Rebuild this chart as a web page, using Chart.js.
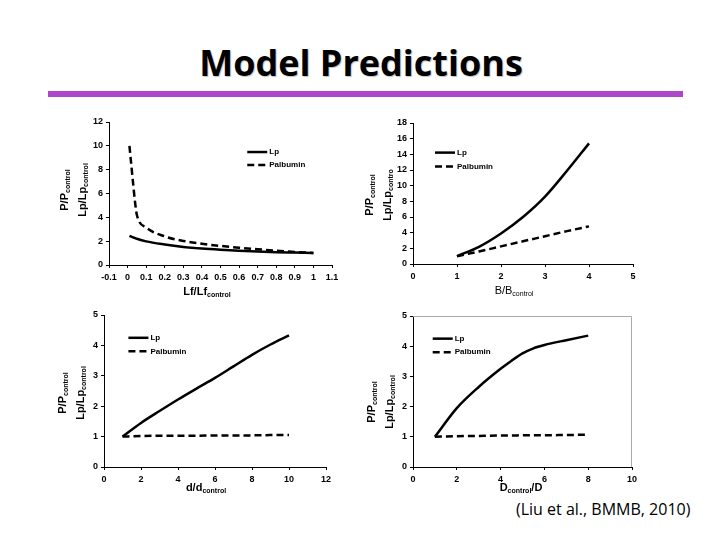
<!DOCTYPE html>
<html>
<head>
<meta charset="utf-8">
<script src="https://cdn.jsdelivr.net/npm/chart.js@4.4.1/dist/chart.umd.min.js"></script>
<style>
    body { margin: 0; background: #fff; }
    #page { position: relative; width: 720px; height: 540px; overflow: hidden; background: #fff; }
    #title { position: absolute; left: 0; width: 722px; top: 38px; text-align: center;
        font: bold 36px "Open Sans", sans-serif; color: #000; text-shadow: 1px 1px 1px rgba(0,0,0,0.25); }
    #bar { position: absolute; left: 48px; top: 91px; width: 635px; height: 6px; background: #ac47c9; }
    #source { position: absolute; left: 516px; top: 498px; font: 16px "Open Sans", sans-serif; color: #000; }
    canvas { position: absolute; }
    .xt { position: absolute; font: bold 11px "Liberation Sans", Arial, sans-serif; color: #000;
        transform: translate(-50%, -50%); white-space: nowrap; }
    .yt { position: absolute; font: bold 11px "Liberation Sans", Arial, sans-serif; color: #000;
        transform: translate(-50%, -50%) rotate(-90deg); white-space: nowrap; text-align: center; line-height: 15px; }
    sub { font-size: 7px; vertical-align: -2px; }
</style>
</head>
<body>
<div id="page">
    <div id="title">Model Predictions</div>
    <div id="bar"></div>

    <canvas id="c1" width="265" height="171" style="left:79px; top:114px; width:265px; height:171px"></canvas>
    <canvas id="c2" width="262" height="169" style="left:383px; top:115px; width:262px; height:169px"></canvas>
    <canvas id="c3" width="264" height="180" style="left:74px; top:307px; width:264px; height:180px"></canvas>
    <canvas id="c4" width="261" height="179" style="left:383px; top:308px; width:261px; height:179px"></canvas>

    <div class="xt" style="left:207px; top:291px">Lf/Lf<sub>control</sub></div>
    <div class="xt" style="left:514px; top:290px; font-weight:normal">B/B<sub>control</sub></div>
    <div class="xt" style="left:206px; top:487px">d/d<sub>control</sub></div>
    <div class="xt" style="left:521px; top:487px">D<sub>control</sub>/D</div>

    <div class="yt" style="left:75px; top:190px">P/P<sub>control</sub><br>Lp/Lp<sub>control</sub></div>
    <div class="yt" style="left:380px; top:195px">P/P<sub>control</sub><br>Lp/Lp<sub>contro</sub></div>
    <div class="yt" style="left:73px; top:393px">P/P<sub>control</sub><br>Lp/Lp<sub>control</sub></div>
    <div class="yt" style="left:382px; top:402px">P/P<sub>control</sub><br>Lp/Lp<sub>control</sub></div>

    <div id="source">(Liu et al., BMMB, 2010)</div>
</div>

<script>
// Lf/Lf control panel
const lfX = [0.01, 0.02, 0.03, 0.04, 0.05, 0.1, 0.2, 0.3, 0.4, 0.5, 0.6, 0.7, 0.8, 0.9, 1.0];
const lfLp = [2.45, 2.38, 2.32, 2.26, 2.2, 1.98, 1.72, 1.52, 1.38, 1.28, 1.2, 1.13, 1.08, 1.04, 1.0];
const lfAlb = [10.0, 8.4, 6.8, 5.3, 4.2, 3.15, 2.4, 2.02, 1.78, 1.6, 1.45, 1.32, 1.2, 1.1, 1.0];
const lfXTicks = [-0.1, 0, 0.1, 0.2, 0.3, 0.4, 0.5, 0.6, 0.7, 0.8, 0.9, 1, 1.1];
const lfYTicks = [0, 2, 4, 6, 8, 10, 12];

// B/B control panel
const bX = [1, 1.5, 2, 2.5, 3, 3.5, 4];
const bLp = [1, 2.2, 3.9, 6.0, 8.6, 11.9, 15.4];
const bAlb = [1, 1.6, 2.25, 2.9, 3.55, 4.2, 4.8];
const bXTicks = [0, 1, 2, 3, 4, 5];
const bYTicks = [0, 2, 4, 6, 8, 10, 12, 14, 16, 18];

// d/d control panel
const dX = [1, 2, 3, 4, 5, 6, 7, 8, 9, 10];
const dLp = [1, 1.45, 1.84, 2.22, 2.58, 2.93, 3.31, 3.69, 4.03, 4.33];
const dAlb = [1, 1.02, 1.03, 1.03, 1.03, 1.04, 1.04, 1.04, 1.05, 1.05];
const dXTicks = [0, 2, 4, 6, 8, 10, 12];
const dYTicks = [0, 1, 2, 3, 4, 5];

// D control / D panel
const rX = [1, 2, 3, 4, 4.5, 5, 5.5, 6, 7, 8];
const rLp = [1, 1.95, 2.65, 3.25, 3.52, 3.76, 3.93, 4.04, 4.2, 4.35];
const rAlb = [1, 1.02, 1.03, 1.04, 1.04, 1.05, 1.05, 1.05, 1.06, 1.07];
const rXTicks = [0, 2, 4, 6, 8, 10];
const rYTicks = [0, 1, 2, 3, 4, 5];

const seriesNames = ['Lp', 'Palbumin'];

function pts(xs, ys)
{
    return xs.map((x, i) => ({ x: x, y: ys[i] }));
}

// leyenda dibujada dentro del area del grafico
const innerLegend = {
    id: 'innerLegend',
    afterDraw: (chart, args, opts) =>
    {
        const { ctx, chartArea } = chart;
        const x0 = chartArea.left + opts.x * chartArea.width;
        ctx.save();
        ctx.font = 'bold 8px "Liberation Sans", Arial, sans-serif';
        ctx.fillStyle = '#000';
        ctx.textBaseline = 'middle';
        chart.data.datasets.forEach((ds, i) =>
        {
            const y = chartArea.top + opts.y * chartArea.height + i * opts.gap;
            ctx.beginPath();
            ctx.strokeStyle = '#000';
            ctx.lineWidth = 2.5;
            ctx.setLineDash(ds.borderDash || []);
            ctx.moveTo(x0, y);
            ctx.lineTo(x0 + 20, y);
            ctx.stroke();
            ctx.setLineDash([]);
            ctx.fillText(ds.label, x0 + 22, y);
        });
        // marco arriba y a la derecha (solo en un panel)
        if (opts.frame)
        {
            ctx.strokeStyle = opts.frame;
            ctx.lineWidth = 1;
            ctx.beginPath();
            ctx.moveTo(chartArea.left, chartArea.top + 0.5);
            ctx.lineTo(chartArea.right - 0.5, chartArea.top + 0.5);
            ctx.lineTo(chartArea.right - 0.5, chartArea.bottom);
            ctx.stroke();
        }
        ctx.restore();
    }
};

function makeChart(id, xs, lp, alb, xTicks, yTicks, legendPos)
{
    const tickFont = { family: '"Liberation Sans", Arial, sans-serif', size: 9, weight: 'bold' };
    const axisCommon = {
        type: 'linear',
        grid: { drawOnChartArea: false, drawTicks: true, tickLength: 3, color: '#000' },
        border: { color: '#000', width: 1 }
    };

    return new Chart(document.getElementById(id), {
        type: 'scatter',
        data: {
            datasets: [
                {
                    label: seriesNames[0],
                    data: pts(xs, lp),
                    showLine: true,
                    borderColor: '#000',
                    borderWidth: 2.5,
                    pointRadius: 0,
                    cubicInterpolationMode: 'monotone'
                },
                {
                    label: seriesNames[1],
                    data: pts(xs, alb),
                    showLine: true,
                    borderColor: '#000',
                    borderWidth: 2.5,
                    borderDash: [7, 4],
                    pointRadius: 0,
                    cubicInterpolationMode: 'monotone'
                }
            ]
        },
        options: {
            responsive: false,
            animation: false,
            devicePixelRatio: 1,
            layout: { padding: { top: 8, right: 12, left: 0, bottom: 0 } },
            plugins: {
                legend: { display: false },
                tooltip: { enabled: false },
                innerLegend: legendPos
            },
            scales: {
                x: Object.assign({}, axisCommon, {
                    min: xTicks[0],
                    max: xTicks[xTicks.length - 1],
                    ticks: {
                        font: tickFont, color: '#000', padding: 4, autoSkip: false, maxRotation: 0,
                        callback: v => String(Math.round(v * 10) / 10)
                    },
                    afterBuildTicks: s => { s.ticks = xTicks.map(v => ({ value: v })); },
                    afterFit: s => { s.height = 20; s.paddingLeft = 0; s.paddingRight = 0; }
                }),
                y: Object.assign({}, axisCommon, {
                    min: yTicks[0],
                    max: yTicks[yTicks.length - 1],
                    ticks: { font: tickFont, color: '#000', padding: 3, autoSkip: false },
                    afterBuildTicks: s => { s.ticks = yTicks.map(v => ({ value: v })); },
                    afterFit: s => { s.width = 30; s.paddingTop = 0; s.paddingBottom = 0; }
                })
            }
        },
        plugins: [innerLegend]
    });
}

makeChart('c1', lfX, lfLp, lfAlb, lfXTicks, lfYTicks, { x: 0.62, y: 0.21, gap: 13 });
makeChart('c2', bX, bLp, bAlb, bXTicks, bYTicks, { x: 0.1, y: 0.21, gap: 14 });
makeChart('c3', dX, dLp, dAlb, dXTicks, dYTicks, { x: 0.11, y: 0.15, gap: 13.5 });
makeChart('c4', rX, rLp, rAlb, rXTicks, rYTicks, { x: 0.09, y: 0.15, gap: 13.5, frame: '#aaa' });
</script>
</body>
</html>
